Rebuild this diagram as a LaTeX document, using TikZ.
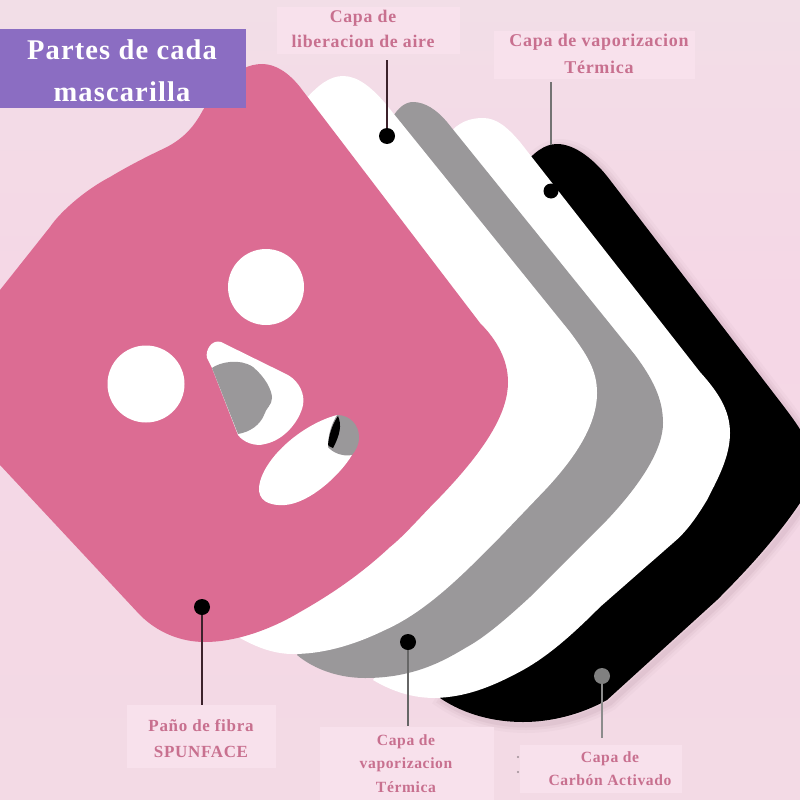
\documentclass[tikz,border=0pt]{standalone}
\usepackage{fontspec}
\setmainfont{Liberation Serif}[LetterSpace=4]
\definecolor{bgtop}{HTML}{F2DEE7}
\definecolor{bgmid}{HTML}{F5D7E6}
\definecolor{bgbot}{HTML}{F3DAE5}
\definecolor{labelfill}{HTML}{F8E1EC}
\definecolor{labeltext}{HTML}{C8708F}
\definecolor{maskpink}{HTML}{DC6C93}
\definecolor{maskgray}{HTML}{9A989A}
\definecolor{titlefill}{HTML}{8B6DC2}
\definecolor{shadowtone}{HTML}{8A6078}
\newcommand{\carbonoutline}{
  (520,170) .. controls (533,152) and (545,144) .. (557,144)
  .. controls (575,144) and (595,160) .. (610,180)
  -- (785,408) .. controls (805,435) and (825,460) .. (800,503)
  .. controls (775,540) and (745,572) .. (717,600)
  -- (607,700) .. controls (580,715) and (550,722) .. (523,722)
  .. controls (495,722) and (465,715) .. (440,698)
  -- (470,650) -- cycle}
\tikzset{
  x=1pt, y=-1pt,
  labelbox/.style={fill=labelfill, inner sep=0pt, anchor=center},
  labeltitle/.style={inner sep=0pt, align=center, text=labeltext, anchor=center},
  marker/.style={circle, fill=black, inner sep=0pt, minimum size=16pt},
  leader/.style={line width=2.6pt, draw=black!70!labeltext},
}
\begin{document}
\begin{tikzpicture}
\useasboundingbox (0,0) rectangle (800,800);
\clip (0,0) rectangle (800,800);
\path[top color=bgtop, bottom color=bgmid] (0,0) rectangle (800,300);
\path[top color=bgmid, bottom color=bgbot] (0,300) rectangle (800,800);

% soft shadow under the carbon layer
\foreach \w/\o in {16/0.04,10/0.06,5/0.08}{
  \draw[shadowtone, line width=\w pt, opacity=\o, shift={(3,3)}] \carbonoutline;
}
% carbon layer
\fill[black] \carbonoutline;
% rear white layer
\fill[white] (448,135) .. controls (458,122) and (470,118) .. (483,118)
  .. controls (497,118) and (508,128) .. (520,142)
  -- (700,372) .. controls (718,392) and (730,410) .. (730,433)
  .. controls (730,458) and (716,482) .. (707,500)
  .. controls (695,520) and (685,533) .. (673,543)
  -- (600,607) .. controls (575,632) and (550,655) .. (523,670)
  .. controls (490,688) and (465,697) .. (435,698)
  .. controls (410,698) and (390,690) .. (373,680)
  -- (400,640) -- cycle;
% vapour layer
\fill[maskgray] (392,118) .. controls (398,108) and (405,102) .. (413,102)
  .. controls (425,102) and (437,110) .. (447,122)
  -- (635,355) .. controls (652,378) and (663,398) .. (663,423)
  .. controls (663,450) and (640,485) .. (607,520)
  -- (530,597) .. controls (505,620) and (485,637) .. (467,647)
  .. controls (445,660) and (415,678) .. (365,678)
  .. controls (340,678) and (315,670) .. (297,655)
  -- (340,600) -- cycle;
% air release layer
\fill[white] (305,100) .. controls (318,85) and (330,76) .. (343,76)
  .. controls (358,76) and (372,88) .. (385,103)
  -- (570,332) .. controls (587,355) and (597,370) .. (597,393)
  .. controls (597,425) and (575,458) .. (545,490)
  -- (500,537) .. controls (470,567) and (430,610) .. (385,630)
  .. controls (350,647) and (320,654) .. (293,654)
  .. controls (275,654) and (258,648) .. (240,638)
  -- (280,580) -- cycle;
% fibre sheet
\fill[maskpink] (262,64) .. controls (275,64) and (288,72) .. (300,87)
  -- (480,323) .. controls (497,340) and (508,360) .. (508,382)
  .. controls (508,410) and (490,445) .. (440,497)
  .. controls (420,517) and (405,535) .. (390,547)
  .. controls (360,575) and (330,595) .. (300,612)
  .. controls (270,630) and (235,642) .. (205,642)
  .. controls (180,642) and (157,632) .. (140,615)
  -- (0,465) -- (-30,433) -- (-30,325) -- (0,290) -- (50,227)
  .. controls (60,212) and (85,190) .. (110,177)
  .. controls (130,165) and (150,155) .. (165,148)
  .. controls (185,138) and (195,125) .. (203,110)
  .. controls (215,92) and (235,64) .. (262,64) -- cycle;

% eye openings
\fill[white] (266,287) circle[radius=38];
\fill[white] (146,384) circle[radius=38.5];
% nose opening
\fill[white] (207,358) .. controls (205,350) and (212,339) .. (221,342)
  -- (288,375) .. controls (300,382) and (305,395) .. (303,405)
  .. controls (300,420) and (285,440) .. (265,444)
  .. controls (255,447) and (243,442) .. (238,435) -- (212,368) -- cycle;
\fill[maskgray] (212,368) .. controls (220,362) and (240,358) .. (253,367)
  .. controls (265,377) and (272,390) .. (272,398)
  .. controls (272,405) and (266,408) .. (264,415)
  .. controls (260,425) and (250,432) .. (238,434) -- cycle;
% mouth opening
\fill[white] (337,415) .. controls (300,425) and (262,460) .. (259,487)
  .. controls (258,500) and (268,506) .. (285,505)
  .. controls (310,503) and (340,475) .. (352,455) -- cycle;
\fill[maskgray] (337,415) .. controls (350,415) and (359,425) .. (359,437)
  .. controls (359,445) and (356,450) .. (352,455)
  .. controls (342,457) and (332,452) .. (328,447)
  .. controls (328,435) and (331,425) .. (337,415) -- cycle;
\fill[black] (338,416) .. controls (342,425) and (340,435) .. (333,448)
  .. controls (330,447) and (329,446) .. (328,445)
  .. controls (329,435) and (332,425) .. (338,416) -- cycle;

% title banner
\node[fill=titlefill, minimum width=246pt, minimum height=79pt, inner sep=0pt, anchor=north west] (title) at (0,29) {};
\node[align=center, text=white, inner sep=0pt, font=\bfseries\fontsize{28.5}{42}\selectfont] (titletext) at (122,71) {Partes de cada\\mascarilla};

% label boxes
\node[labelbox, minimum width=183pt, minimum height=47pt] (boxliber) at (368.5,30.5) {};
\node[labelbox, minimum width=201pt, minimum height=48pt] (boxvapa) at (594.5,55) {};
\node[labelbox, minimum width=149pt, minimum height=63pt] (boxpano) at (201.5,736.5) {};
\node[labelbox, minimum width=174pt, minimum height=73pt] (boxvapb) at (407,763.5) {};
\node[labelbox, minimum width=162pt, minimum height=48pt] (boxcarb) at (601,769) {};

% label texts
\node[labeltitle, font=\bfseries\fontsize{17.8}{25}\selectfont] (textliber) at (363,28.5) {Capa de\\liberacion de aire};
\node[labeltitle, font=\bfseries\fontsize{18}{27}\selectfont] (textvapa) at (599,54) {Capa de vaporizacion\\Térmica};
\node[labeltitle, font=\bfseries\fontsize{17}{26}\selectfont] (textpano) at (201,738.5) {Paño de fibra\\SPUNFACE};
\node[labeltitle, font=\bfseries\fontsize{15.6}{23.5}\selectfont] (textvapb) at (406,763.5) {Capa de\\vaporizacion\\Térmica};
\node[labeltitle, font=\bfseries\fontsize{15.6}{23}\selectfont] (textcarb) at (610,769) {Capa de\\Carbón Activado};

% layer markers
\node[marker] (dotliber) at (387,136) {};
\node[marker, minimum size=15pt] (dotvapa) at (551,191) {};
\node[marker] (dotpano) at (202,607) {};
\node[marker] (dotvapb) at (408,642) {};
\node[marker, fill=black!50!white] (dotcarb) at (602,676) {};

% leaders from each marker to its label
\draw[leader, shorten >=6pt] (dotliber) -- (dotliber |- boxliber.south);
\draw[leader, draw=black!55!white, shorten >=3pt, shorten <=38pt] (dotvapa) -- (dotvapa |- boxvapa.south);
\draw[leader] (dotpano) -- (dotpano |- boxpano.north);
\draw[leader, draw=black!60!white, shorten >=1pt] (dotvapb) -- (dotvapb |- boxvapb.north);
\draw[leader, draw=black!45!white, shorten >=7pt] (dotcarb) -- (dotcarb |- boxcarb.north);

% stray specks beside the carbon label
\fill[black!35!bgbot] (518,757) circle[radius=1.2] (518,772) circle[radius=1.2];
\end{tikzpicture}
\end{document}
